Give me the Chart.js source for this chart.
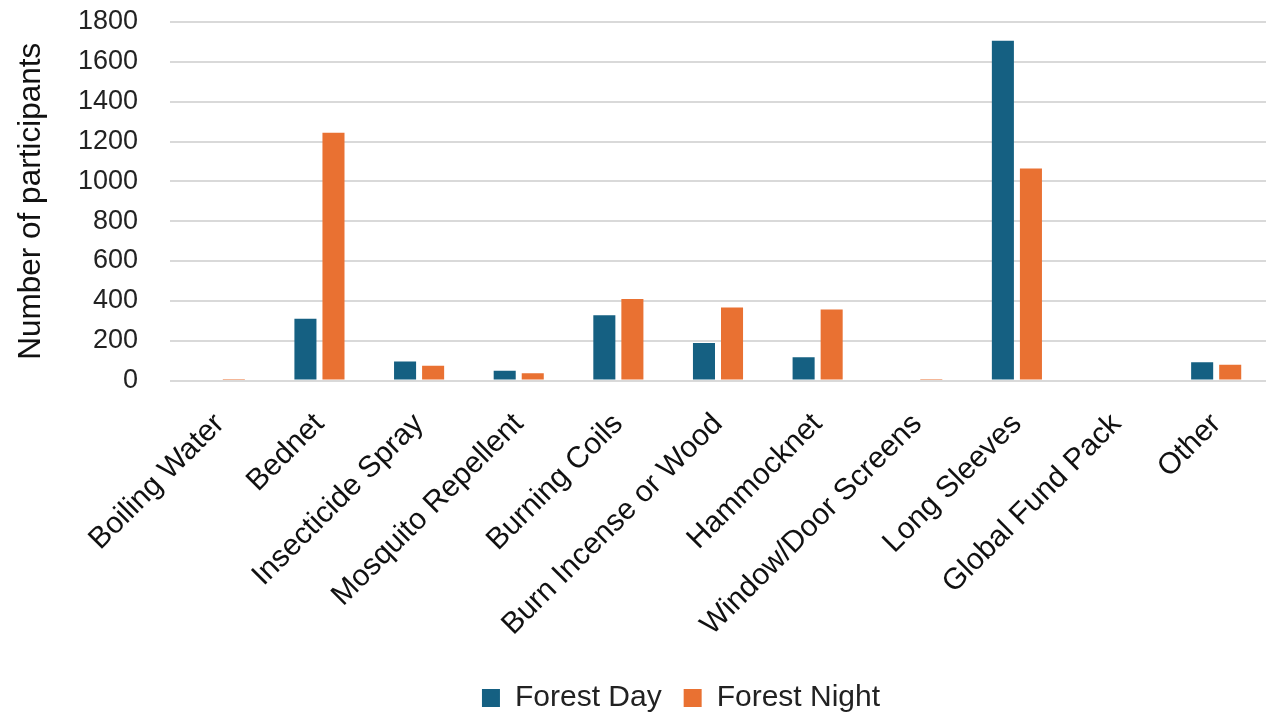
<!DOCTYPE html>
<html>
<head>
<meta charset="utf-8">
<script src="https://cdn.jsdelivr.net/npm/chart.js@4/dist/chart.umd.min.js"></script>
<style>
  html, body { margin: 0; padding: 0; background: #ffffff; }
  #wrap { width: 1266px; height: 716px; position: relative; }
</style>
</head>
<body>
<div id="wrap"><canvas id="chart"></canvas></div>
<script>
// Personal protection methods reported by participants
const categories = [
  "Boiling Water", "Bednet", "Insecticide Spray", "Mosquito Repellent",
  "Burning Coils", "Burn Incense or Wood", "Hammocknet", "Window/Door Screens",
  "Long Sleeves", "Global Fund Pack", "Other"
];
const forestDay   = [0, 310, 95, 49, 328, 188, 117, 0, 1706, 0, 92];
const forestNight = [7, 1244, 74, 37, 409, 367, 357, 7, 1064, 0, 79];
const yTicks = [0, 200, 400, 600, 800, 1000, 1200, 1400, 1600, 1800];

const FONT = "'Liberation Sans', Arial, sans-serif";
const Y_AXIS_WIDTH = 158;     // room for the axis title and tick labels
const LEGEND_SHIFT = 42;      // nudge the legend row to the right

// Shift the legend row horizontally after layout
const legendNudge = {
  id: 'legendNudge',
  afterLayout(chart) {
    const lg = chart.legend;
    if (lg) { lg.left += LEGEND_SHIFT; lg.right += LEGEND_SHIFT; }
  }
};

new Chart(document.getElementById('chart'), {
  type: 'bar',
  data: {
    labels: categories,
    datasets: [
      { label: 'Forest Day', data: forestDay, backgroundColor: '#156082',
        categoryPercentage: 0.563, barPercentage: 0.786 },
      { label: 'Forest Night', data: forestNight, backgroundColor: '#E97132',
        categoryPercentage: 0.563, barPercentage: 0.786 }
    ]
  },
  plugins: [legendNudge],
  options: {
    responsive: true,
    maintainAspectRatio: false,
    animation: false,
    layout: { padding: { top: 22, right: 0, bottom: -7, left: 12 } },
    plugins: {
      tooltip: { enabled: false },
      legend: {
        position: 'bottom',
        labels: {
          boxWidth: 18, boxHeight: 18, padding: 22,
          color: '#222222',
          font: { family: FONT, size: 30 }
        }
      }
    },
    scales: {
      x: {
        grid: { display: false },
        border: { display: false },
        ticks: {
          minRotation: 45, maxRotation: 45,
          color: '#111111', padding: 18,
          font: { family: FONT, size: 30 }
        }
      },
      y: {
        min: 0, max: 1800,
        afterBuildTicks: (axis) => { axis.ticks = yTicks.map(v => ({ value: v })); },
        afterFit: (axis) => { axis.width = Y_AXIS_WIDTH; },
        grid: { color: '#d9d9d9', lineWidth: 2, drawTicks: true, tickLength: 28, tickColor: 'rgba(0,0,0,0)' },
        border: { display: false },
        ticks: {
          color: '#222222', padding: 4,
          font: { family: FONT, size: 27 },
          callback: (v) => String(v)
        },
        title: {
          display: true, text: 'Number of participants',
          color: '#111111', padding: { top: 0, bottom: 0 },
          font: { family: FONT, size: 31.5 }
        }
      }
    }
  }
});
</script>
</body>
</html>
